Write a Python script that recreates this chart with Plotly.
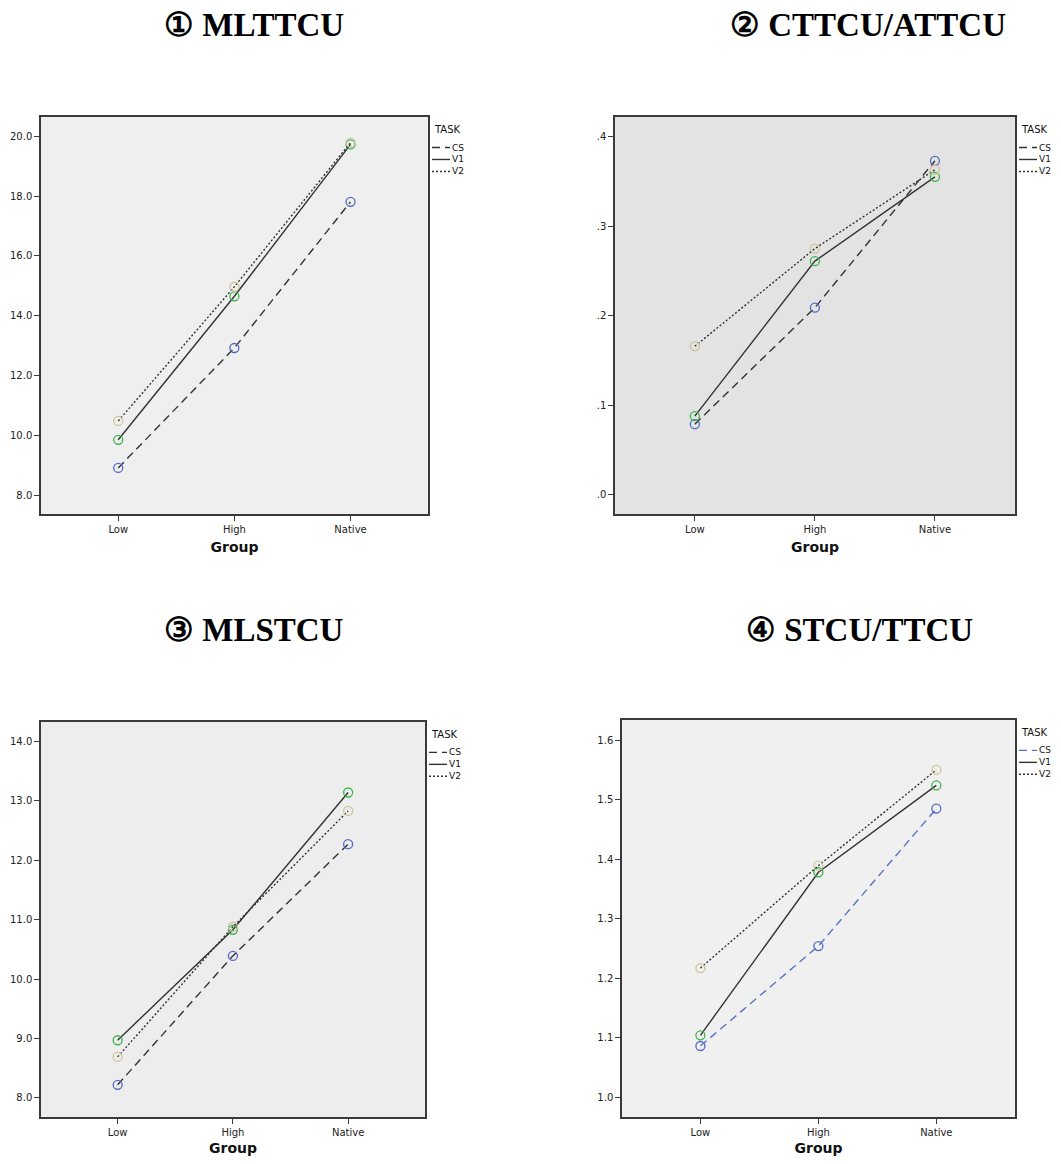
import plotly.graph_objects as go

# ---------------- data ----------------
groups = ["Low", "High", "Native"]
tasks = ["CS", "V1", "V2"]

mlttcu_cs = [8.91, 12.92, 17.81]
mlttcu_v1 = [9.85, 14.65, 19.73]
mlttcu_v2 = [10.48, 14.97, 19.79]

cttcu_cs = [0.079, 0.209, 0.373]
cttcu_v1 = [0.088, 0.261, 0.355]
cttcu_v2 = [0.166, 0.275, 0.363]

mlstcu_cs = [8.22, 10.39, 12.27]
mlstcu_v1 = [8.97, 10.83, 13.14]
mlstcu_v2 = [8.69, 10.88, 12.83]

stcu_cs = [1.086, 1.254, 1.485]
stcu_v1 = [1.104, 1.378, 1.524]
stcu_v2 = [1.217, 1.389, 1.550]

titles = ["① MLTTCU", "② CTTCU/ATTCU", "③ MLSTCU", "④ STCU/TTCU"]

ticks1 = [8, 10, 12, 14, 16, 18, 20]
ticks2 = [0.0, 0.1, 0.2, 0.3, 0.4]
ticktext2 = [".0", ".1", ".2", ".3", ".4"]
ticks3 = [8, 9, 10, 11, 12, 13, 14]
ticks4 = [1.0, 1.1, 1.2, 1.3, 1.4, 1.5, 1.6]

# ---------------- layout helpers ----------------
PAGE_W, PAGE_H = 1061, 1164
OFF = 8  # default page body margin
W, H = PAGE_W - 2 * OFF, PAGE_H - 2 * OFF


def fx(px):
    return (px - OFF) / W


def fy(py):
    return 1 - (py - OFF) / H


panels = [
    dict(series=[mlttcu_cs, mlttcu_v1, mlttcu_v2], box=(41, 428, 117, 516), yr=[7.36, 20.66],
         tv=ticks1, tt=[f"{v:.1f}" for v in ticks1], bg="#efefef", cs_line="#333333",
         tx=254, ty=25),
    dict(series=[cttcu_cs, cttcu_v1, cttcu_v2], box=(615, 1015, 117, 516), yr=[-0.0215, 0.4223],
         tv=ticks2, tt=ticktext2, bg="#e3e3e3", cs_line="#333333",
         tx=868, ty=25),
    dict(series=[mlstcu_cs, mlstcu_v1, mlstcu_v2], box=(41, 425, 724, 1121), yr=[7.676, 14.335],
         tv=ticks3, tt=[f"{v:.1f}" for v in ticks3], bg="#ededed", cs_line="#333333",
         tx=254, ty=632),
    dict(series=[stcu_cs, stcu_v1, stcu_v2], box=(622, 1015, 722, 1121), yr=[0.9665, 1.6347],
         tv=ticks4, tt=[f"{v:.1f}" for v in ticks4], bg="#f0f0f0", cs_line="#5b73c6",
         tx=859, ty=632),
]

marker_colors = {"CS": "#5468c4", "V1": "#3cb44b", "V2": "#cdc698"}
dashes = {"CS": "8px,5px", "V1": "solid", "V2": "2px,2px"}

fig = go.Figure()
shapes = []
annotations = []
tickfont = dict(family="DejaVu Sans, Liberation Sans, sans-serif", size=10, color="#222222")

for i, p in enumerate(panels):
    n = "" if i == 0 else str(i + 1)
    xa, ya = "x" + n, "y" + n
    x0, x1, y0, y1 = p["box"]
    for t, vals in zip(tasks, p["series"]):
        lc = p["cs_line"] if t == "CS" else "#333333"
        fig.add_trace(go.Scatter(
            x=groups, y=vals, mode="lines+markers", name=t, showlegend=False,
            xaxis=xa, yaxis=ya,
            line=dict(color=lc, width=1.4, dash=dashes[t]),
            marker=dict(symbol="circle-open", size=9, color=marker_colors[t],
                        line=dict(width=1.3, color=marker_colors[t])),
        ))
    axis_common = dict(showline=True, linecolor="#3a3a3a", linewidth=1.5, mirror=True,
                       ticks="outside", ticklen=5, tickcolor="#3a3a3a", tickwidth=1.3,
                       showgrid=False, zeroline=False, tickfont=tickfont, fixedrange=True)
    fig.layout["xaxis" + n] = dict(
        domain=[fx(x0), fx(x1)], anchor=ya, type="category", range=[-0.665, 2.667],
        categoryorder="array", categoryarray=groups,
        title=dict(text="<b>Group</b>", font=dict(family="DejaVu Sans, sans-serif", size=14, color="#111111"),
                   standoff=8),
        **axis_common)
    fig.layout["yaxis" + n] = dict(
        domain=[fy(y1), fy(y0)], anchor=xa, range=p["yr"],
        tickmode="array", tickvals=p["tv"], ticktext=p["tt"],
        **axis_common)
    # background
    shapes.append(dict(type="rect", xref=xa + " domain", yref=ya + " domain", x0=0, x1=1, y0=0, y1=1,
                       fillcolor=p["bg"], line=dict(width=0), layer="below"))
    # title
    annotations.append(dict(text="<b>" + titles[i] + "</b>", xref="paper", yref="paper",
                            x=fx(p["tx"]), y=fy(p["ty"]), showarrow=False, xanchor="center", yanchor="middle",
                            font=dict(family="Liberation Serif, Times New Roman, serif", size=33, color="#000000")))
    # legend (TASK)
    lx = x1 + 4
    annotations.append(dict(text="TASK", xref="paper", yref="paper", x=fx(lx), y=fy(y0 + 13),
                            showarrow=False, xanchor="left", yanchor="middle",
                            font=dict(family="DejaVu Sans, sans-serif", size=10, color="#111111")))
    for k, t in enumerate(tasks):
        ly = y0 + 31 + 12 * k
        lc = p["cs_line"] if t == "CS" else "#333333"
        shapes.append(dict(type="line", xref="paper", yref="paper", x0=fx(lx), x1=fx(lx + 18),
                           y0=fy(ly), y1=fy(ly), line=dict(color=lc, width=1.4, dash=dashes[t])))
        annotations.append(dict(text=t, xref="paper", yref="paper", x=fx(lx + 18), y=fy(ly),
                                showarrow=False, xanchor="left", yanchor="middle",
                                font=dict(family="DejaVu Sans, sans-serif", size=9, color="#111111")))

fig.update_layout(
    width=W, height=H, margin=dict(l=0, r=0, t=0, b=0),
    paper_bgcolor="#ffffff", plot_bgcolor="rgba(0,0,0,0)",
    shapes=shapes, annotations=annotations, showlegend=False,
)

fig.write_html("out.html")
